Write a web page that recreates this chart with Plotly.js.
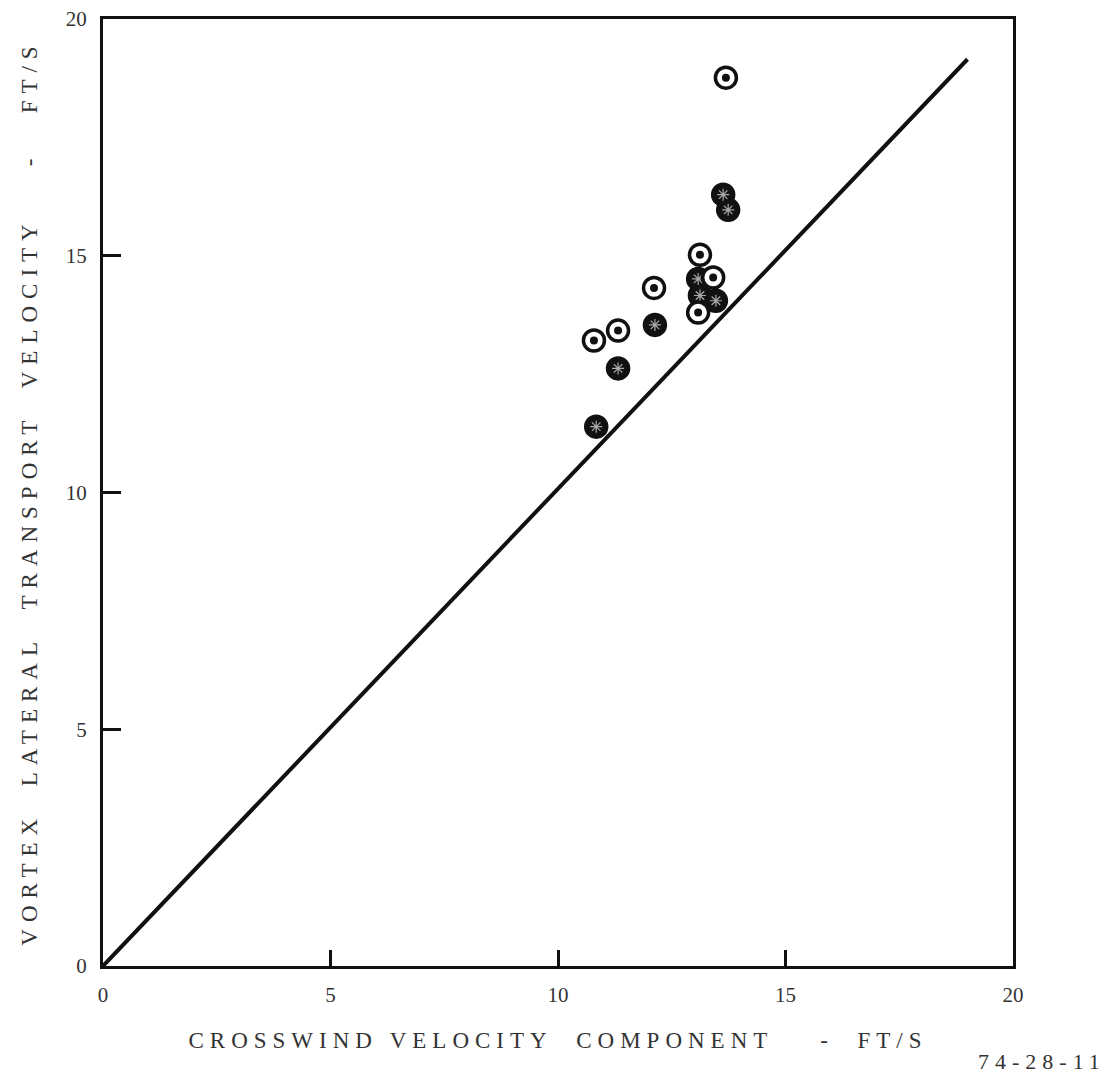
<!DOCTYPE html>
<html>
<head>
<meta charset="utf-8">
<script src="https://cdn.plot.ly/plotly-3.0.1.min.js"></script>
<style>
  html, body { margin: 0; padding: 0; background: #fff; }
  #chart { width: 1118px; height: 1089px; }
  .xtitle { letter-spacing: 6px; }
  .ytitle { letter-spacing: 7px; }
  .annotation-text { letter-spacing: 6px; }
</style>
</head>
<body>
<div id="chart"></div>
<script>
// Runs with the bullseye symbol (ringed dot)
const openX = [13.69, 10.79, 11.32, 12.11, 13.12, 13.41, 13.08];
const openY = [18.76, 13.21, 13.42, 14.32, 15.02, 14.54, 13.80];

// Runs with the solid speckled symbol
const solidX = [13.63, 13.74, 11.32, 12.13, 10.84, 13.08, 13.12, 13.47];
const solidY = [16.29, 15.97, 12.62, 13.54, 11.39, 14.51, 14.16, 14.05];

// Reference line as drawn on the sheet
const lineX = [0, 19];
const lineY = [0, 19.15];

const tickVals = [0, 5, 10, 15, 20];
const tickText = ['0', '5', '10', '15', '20'];

// word gaps widened with non-breaking spaces (SVG collapses plain runs)
const gap = n => '\u00a0'.repeat(n);
const xTitle = 'CROSSWIND' + gap(1) + 'VELOCITY' + gap(2) + 'COMPONENT' + gap(4) + '-' + gap(2) + 'FT/S';
const yTitle = 'VORTEX' + gap(2) + 'LATERAL' + gap(2) + 'TRANSPORT' + gap(2) + 'VELOCITY' + gap(4) + '-' + gap(3) + 'FT/S';

const serif = 'Liberation Serif, DejaVu Serif, serif';
const ink = '#111';
const textInk = '#333';

const traces = [
  {
    x: lineX, y: lineY, type: 'scatter', mode: 'lines',
    line: { color: ink, width: 4 }, hoverinfo: 'skip', showlegend: false
  },
  {
    x: solidX, y: solidY, type: 'scatter', mode: 'markers',
    marker: { symbol: 'circle', size: 23, color: ink, line: { color: ink, width: 1.5 } },
    showlegend: false
  },
  {
    x: solidX, y: solidY, type: 'scatter', mode: 'markers',
    marker: { symbol: 'asterisk-open', size: 10, color: '#aaa', line: { color: '#aaa', width: 1.2 } },
    showlegend: false, hoverinfo: 'skip'
  },
  {
    x: openX, y: openY, type: 'scatter', mode: 'markers',
    marker: { symbol: 'circle', size: 21, color: '#fff', line: { color: ink, width: 3.5 } },
    showlegend: false
  },
  {
    x: openX, y: openY, type: 'scatter', mode: 'markers',
    marker: { symbol: 'circle', size: 8, color: ink, line: { width: 0 } },
    showlegend: false, hoverinfo: 'skip'
  }
];

const axisCommon = {
  range: [0, 20],
  tickmode: 'array',
  tickvals: tickVals,
  ticktext: tickText,
  ticks: 'inside',
  tickwidth: 3,
  tickcolor: ink,
  showline: true,
  linecolor: ink,
  linewidth: 3,
  mirror: true,
  showgrid: false,
  zeroline: false,
  fixedrange: true,
  tickfont: { family: serif, size: 21, color: textInk }
};

const layout = {
  width: 1118,
  height: 1089,
  margin: { l: 103, r: 105, t: 19, b: 123 },
  paper_bgcolor: '#fff',
  plot_bgcolor: '#fff',
  xaxis: Object.assign({}, axisCommon, {
    ticklen: 16,
    ticklabelstandoff: 8,
    title: { text: xTitle, font: { family: serif, size: 23, color: textInk }, standoff: 26 }
  }),
  yaxis: Object.assign({}, axisCommon, {
    ticklen: 18,
    ticklabelstandoff: 9,
    title: { text: yTitle, font: { family: serif, size: 23, color: textInk }, standoff: 22 }
  }),
  annotations: [
    {
      xref: 'paper', yref: 'paper', x: 1.104, y: -0.101, xanchor: 'right', yanchor: 'middle',
      text: '74-28-11', showarrow: false,
      font: { family: serif, size: 22, color: textInk }
    }
  ]
};

Plotly.newPlot('chart', traces, layout, { displayModeBar: false, staticPlot: true });
</script>
</body>
</html>
